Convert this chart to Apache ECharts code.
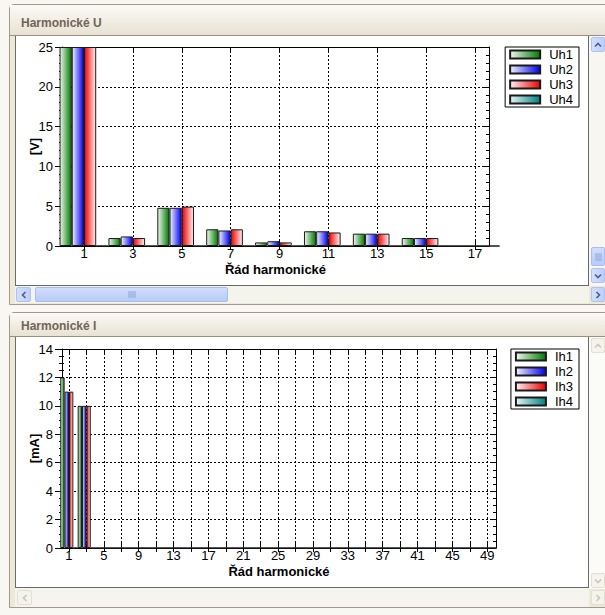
<!DOCTYPE html>
<html>
<head>
<meta charset="utf-8">
<script src="https://cdn.jsdelivr.net/npm/echarts@6/dist/echarts.min.js"></script>
<style>
  html, body { margin: 0; padding: 0; }
  body { width: 605px; height: 615px; position: relative; overflow: hidden; background: #f8f7f2; font-family: "Liberation Sans", Arial, sans-serif; }
  .abs { position: absolute; box-sizing: border-box; }
  .frame { left: 9px; width: 600px; border: 1px solid #a69886; border-top-left-radius: 5px; background: #ece9d8; }
  .titlebar { left: 10px; width: 595px; background: linear-gradient(#fbfaf5, #e7e2d3); border-bottom: 1px solid #9d8f7d; }
  .ttext { left: 21px; font: bold 12px "Liberation Sans", Arial, sans-serif; color: #716457; line-height: 14px; white-space: nowrap; }
  .panel { left: 15px; width: 574px; background: #fff; border: 1px solid #6a6a6a; border-top: none; }
  .track { background: #f4f3ec; }
  .btn { width: 14px; height: 15px; border-radius: 2px; display: flex; align-items: center; justify-content: center; }
  .on { background: linear-gradient(90deg, #d3defd, #bccffa); border: 1px solid #afc3f1; }
  .off { background: #f4f3ed; border: 1px solid #e2dfd3; }
  .thumb { background: linear-gradient(#d0ddfd, #b8ccf9); border: 1px solid #a8bdee; border-radius: 2px; display: flex; align-items: center; justify-content: center; }
  #chart { position: absolute; left: 0; top: 0; width: 605px; height: 615px; }
</style>
</head>
<body>
<!-- upper pane: voltage harmonics -->
<div class="abs frame" style="top:4px;height:301px"></div>
<div class="abs titlebar" style="top:5px;height:31px"></div>
<div class="abs ttext" style="top:16px">Harmonické U</div>
<div class="abs panel" style="top:36px;height:250px"></div>
<div class="abs track" style="left:15px;top:286px;width:574px;height:17px"></div>
<div class="abs btn on" style="left:16px;top:287px;width:15px">
  <svg width="8" height="8"><polyline points="5.5,1 2.5,4 5.5,7" fill="none" stroke="#4d6185" stroke-width="1.6"/></svg></div>
<div class="abs thumb" style="left:35px;top:287px;width:193px;height:15px">
  <svg width="8" height="7"><path d="M1 0V7M3 0V7M5 0V7M7 0V7" stroke="#8ea6dc" stroke-width="1"/></svg></div>
<div class="abs track" style="left:589px;top:36px;width:16px;height:250px;background:#f7f6f1"></div>
<div class="abs btn on" style="left:591px;top:37px">
  <svg width="8" height="8"><polyline points="1,5.5 4,2.5 7,5.5" fill="none" stroke="#4d6185" stroke-width="1.6"/></svg></div>
<div class="abs thumb" style="left:591px;top:247px;width:14px;height:19px">
  <svg width="7" height="8"><path d="M0 1H7M0 3H7M0 5H7M0 7H7" stroke="#8ea6dc" stroke-width="1"/></svg></div>
<div class="abs btn on" style="left:591px;top:268px">
  <svg width="8" height="8"><polyline points="1,2.5 4,5.5 7,2.5" fill="none" stroke="#4d6185" stroke-width="1.6"/></svg></div>
<div class="abs btn on" style="left:591px;top:287px">
  <svg width="8" height="8"><polyline points="2.5,1 5.5,4 2.5,7" fill="none" stroke="#4d6185" stroke-width="1.6"/></svg></div>

<!-- lower pane: current harmonics -->
<div class="abs frame" style="top:312px;height:296px"></div>
<div class="abs titlebar" style="top:313px;height:24px"></div>
<div class="abs ttext" style="top:319px">Harmonické I</div>
<div class="abs panel" style="top:337px;height:251px"></div>
<div class="abs track" style="left:15px;top:588px;width:574px;height:19px;background:#f5f4ef"></div>
<div class="abs btn off" style="left:17px;top:590px;width:15px">
  <svg width="8" height="8"><polyline points="5.5,1 2.5,4 5.5,7" fill="none" stroke="#cac7b9" stroke-width="1.6"/></svg></div>
<div class="abs track" style="left:589px;top:337px;width:16px;height:252px;background:#fbfbf8"></div>
<div class="abs btn off" style="left:591px;top:338px">
  <svg width="8" height="8"><polyline points="1,5.5 4,2.5 7,5.5" fill="none" stroke="#cac7b9" stroke-width="1.6"/></svg></div>
<div class="abs btn off" style="left:591px;top:573px">
  <svg width="8" height="8"><polyline points="1,2.5 4,5.5 7,2.5" fill="none" stroke="#cac7b9" stroke-width="1.6"/></svg></div>
<div class="abs btn off" style="left:591px;top:590px">
  <svg width="8" height="8"><polyline points="2.5,1 5.5,4 2.5,7" fill="none" stroke="#cac7b9" stroke-width="1.6"/></svg></div>

<div id="chart"></div>
<script>
// Voltage harmonics [V], odd orders
const harmonicsU = [1, 3, 5, 7, 9, 11, 13, 15, 17];
const uh1 = [25, 1.0, 4.8, 2.1, 0.45, 1.85, 1.55, 1.0, 0];
const uh2 = [25, 1.2, 4.8, 1.95, 0.6, 1.85, 1.55, 1.0, 0];
const uh3 = [25, 1.0, 4.95, 2.1, 0.45, 1.7, 1.55, 1.0, 0];
const uh4 = [0, 0, 0, 0, 0, 0, 0, 0, 0];

// Current harmonics [mA], odd orders
const harmonicsI = [1, 3, 5, 7, 9, 11, 13, 15, 17, 19, 21, 23, 25, 27, 29, 31, 33, 35, 37, 39, 41, 43, 45, 47, 49];
const labelsI = [1, 5, 9, 13, 17, 21, 25, 29, 33, 37, 41, 45, 49];
const ih1 = [12, 10, 0, 0, 0, 0, 0, 0, 0, 0, 0, 0, 0, 0, 0, 0, 0, 0, 0, 0, 0, 0, 0, 0, 0];
const ih2 = [11, 10, 0, 0, 0, 0, 0, 0, 0, 0, 0, 0, 0, 0, 0, 0, 0, 0, 0, 0, 0, 0, 0, 0, 0];
const ih3 = [11, 10, 0, 0, 0, 0, 0, 0, 0, 0, 0, 0, 0, 0, 0, 0, 0, 0, 0, 0, 0, 0, 0, 0, 0];
const ih4 = [0, 0, 0, 0, 0, 0, 0, 0, 0, 0, 0, 0, 0, 0, 0, 0, 0, 0, 0, 0, 0, 0, 0, 0, 0];

const namesU = ['Uh1', 'Uh2', 'Uh3', 'Uh4'];
const namesI = ['Ih1', 'Ih2', 'Ih3', 'Ih4'];

const FONT = 'Liberation Sans';
const BLACK = '#000';
const dotted = { color: BLACK, width: 1, type: [2, 2] };

// phase colours: [light, dark]
const phaseColors = [
  ['#eef8ee', '#007a00'],
  ['#f2f2ff', '#0000f0'],
  ['#fff0f0', '#f00000'],
  ['#e6f5f5', '#008080']
];

function shade(pair, reverse) {
  const a = reverse ? pair[1] : pair[0];
  const b = reverse ? pair[0] : pair[1];
  return new echarts.graphic.LinearGradient(0, 0, 1, 0, [
    { offset: 0, color: a }, { offset: 1, color: b }
  ]);
}

function xAxesFor(gridIndex, min, max, ticks, labels) {
  return [
    {
      type: 'value', gridIndex, min, max, position: 'bottom',
      axisLine: { show: true, onZero: false, lineStyle: { color: BLACK, width: 1 } },
      axisTick: { show: true, customValues: ticks, length: 4, lineStyle: { color: BLACK } },
      axisLabel: { customValues: labels, margin: 2, lineHeight: 11, color: BLACK, fontSize: 13, fontFamily: FONT },
      splitLine: { show: true, customValues: ticks, lineStyle: dotted },
      name: 'Řád harmonické', nameLocation: 'middle', nameGap: 17, nameMoveOverlap: false,
      nameTextStyle: { fontWeight: 'bold', fontSize: 13, lineHeight: 12, fontFamily: FONT, color: BLACK }
    },
    {
      type: 'value', gridIndex, min, max, position: 'bottom',
      axisLine: { show: false, onZero: false },
      axisTick: { show: true, customValues: ticks, inside: true, length: 6, lineStyle: { color: BLACK } },
      axisLabel: { show: false }, splitLine: { show: false }
    },
    {
      type: 'value', gridIndex, min, max, position: 'top',
      axisLine: { show: true, onZero: false, lineStyle: { color: BLACK, width: 1 } },
      axisTick: { show: true, customValues: ticks, inside: true, length: 5, lineStyle: { color: BLACK } },
      axisLabel: { show: false }, splitLine: { show: false }
    }
  ];
}

function yAxesFor(gridIndex, max, step, minorSplit, name) {
  const base = { type: 'value', gridIndex, min: 0, max, interval: step };
  return [
    Object.assign({}, base, {
      position: 'left',
      axisLine: { show: true, onZero: false, lineStyle: { color: BLACK, width: 1 } },
      axisTick: { show: true, length: 7, lineStyle: { color: BLACK } },
      minorTick: { show: true, splitNumber: minorSplit, length: 3, lineStyle: { color: BLACK } },
      axisLabel: { margin: 9, color: BLACK, fontSize: 13, fontFamily: FONT },
      splitLine: { show: true, lineStyle: dotted },
      name, nameLocation: 'middle', nameGap: 21, nameMoveOverlap: false,
      nameTextStyle: { fontWeight: 'bold', fontSize: 13, fontFamily: FONT, color: BLACK }
    }),
    Object.assign({}, base, {
      position: 'left',
      axisLine: { show: false, onZero: false },
      axisTick: { show: true, inside: true, length: 2, lineStyle: { color: BLACK } },
      minorTick: { show: true, splitNumber: minorSplit, length: 2, lineStyle: { color: BLACK } },
      axisLabel: { show: false }, splitLine: { show: false }
    }),
    Object.assign({}, base, {
      position: 'right',
      axisLine: { show: true, onZero: false, lineStyle: { color: BLACK, width: 1 } },
      axisTick: { show: true, inside: true, length: 5, lineStyle: { color: BLACK } },
      minorTick: { show: true, splitNumber: minorSplit, length: 3, lineStyle: { color: BLACK } },
      axisLabel: { show: false }, splitLine: { show: false }
    })
  ];
}

function barSeries(names, xs, values, xAxisIndex, yAxisIndex) {
  return names.map((n, k) => ({
    name: n, type: 'bar', xAxisIndex, yAxisIndex,
    data: xs.map((x, i) => [x, values[k][i]]),
    barGap: '0%', barCategoryGap: '0%', clip: true,
    itemStyle: { color: shade(phaseColors[k], k === 2), borderColor: '#1a1a1a', borderWidth: 1 },
    emphasis: { disabled: true }, animation: false
  }));
}

function legendFor(names, top) {
  return {
    data: names.map((n, k) => ({ name: n, itemStyle: { color: shade(phaseColors[k], false) } })),
    orient: 'vertical', right: 26, top, icon: 'rect',
    itemWidth: 30, itemHeight: 8, itemGap: 2,
    padding: [1, 6, 1, 4], borderColor: BLACK, borderWidth: 1, borderRadius: 0,
    selectedMode: false,
    textStyle: { fontSize: 13, fontFamily: FONT, color: BLACK, padding: [0, 0, 0, 4] }
  };
}

const chart = echarts.init(document.getElementById('chart'), null, { renderer: 'svg', width: 605, height: 615 });
chart.setOption({
  animation: false,
  backgroundColor: 'transparent',
  textStyle: { fontFamily: FONT },
  grid: [
    { left: 62, top: 47, width: 427, height: 199 },
    { left: 62, top: 349, width: 434, height: 199 }
  ],
  xAxis: [].concat(
    xAxesFor(0, 0.1, 17.57, harmonicsU, harmonicsU),
    xAxesFor(1, 0.2, 50.0, harmonicsI, labelsI)
  ),
  yAxis: [].concat(
    yAxesFor(0, 25, 5, 5, '[V]'),
    yAxesFor(1, 14, 2, 4, '[mA]')
  ),
  legend: [legendFor(namesU, 47), legendFor(namesI, 349)],
  series: [].concat(
    barSeries(namesU, harmonicsU, [uh1, uh2, uh3, uh4], 0, 0),
    barSeries(namesI, harmonicsI, [ih1, ih2, ih3, ih4], 3, 3)
  )
});
</script>
</body>
</html>
